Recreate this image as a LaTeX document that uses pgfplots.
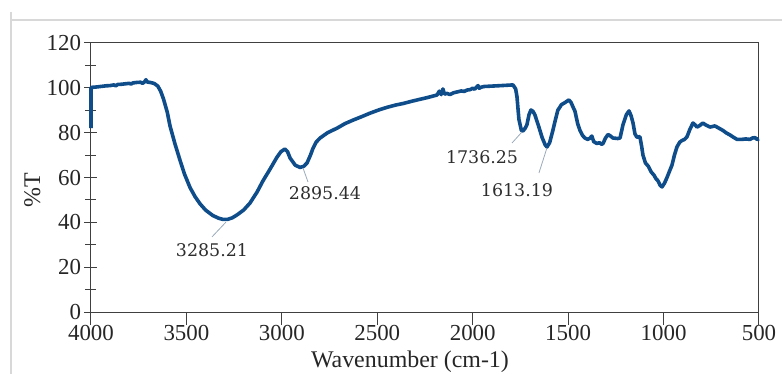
\documentclass[border=0pt]{standalone}
\usepackage{pgfplots}
\pgfplotsset{compat=1.18}
\usepackage{fontspec}
\setmainfont{Liberation Serif}
\newfontfamily\annfont{DejaVu Serif}
\definecolor{curve}{HTML}{0F4C8A}
\definecolor{axgray}{HTML}{404040}
\definecolor{lead}{HTML}{9AAABB}
\definecolor{frame}{HTML}{D8D8D8}
\definecolor{anntext}{HTML}{2E2E2E}
\begin{document}
\begin{tikzpicture}
\path[use as bounding box] (0,0) rectangle (782bp,374bp);
\draw[frame, line width=1.5bp] (11bp,362bp) -- (11bp,0);
\draw[frame, line width=1.2bp] (11bp,354bp) -- (782bp,354bp);
\begin{axis}[
  scale only axis,
  width=668bp, height=269bp,
  at={(91bp,62bp)}, anchor=south west,
  x dir=reverse,
  xmin=500, xmax=4000, ymin=0, ymax=120,
  xtick={500,1000,...,4000},
  ytick={0,20,...,120},
  minor y tick num=1,
  xtick pos=bottom, ytick pos=left,
  /pgf/number format/1000 sep={},
  /pgf/number format/assume math mode=true,
  axis line style={axgray, line width=1bp},
  every tick/.style={axgray, line width=1bp},
  major tick length=13bp, minor tick length=11bp,
  ytick align=center, xtick align=outside,
  tick label style={font=\fontsize{23}{26}\selectfont, text=black!85},
  xticklabel style={yshift=3bp},
  label style={font=\fontsize{24}{27}\selectfont, text=black!85},
  xlabel={Wavenumber (cm-1)},
  ylabel={\%T},
  xlabel style={at={(axis description cs:0.4775,-0.186)}, anchor=center},
  ylabel style={at={(axis description cs:-0.088,0.4535)}, anchor=center},
  clip=false,
]
\addplot[curve, line width=3.6bp, line join=round] coordinates {
(4000,82) (4000,100.2) (3980,100.3) (3950,100.6) (3920,100.9) (3900,101.0)
(3880,101.3) (3870,100.9) (3860,101.5) (3840,101.6) (3820,101.8) (3800,102.0)
(3790,101.7) (3780,102.2) (3760,102.4) (3740,102.5) (3730,102.0) (3720,102.6)
(3712,103.6) (3705,102.6) (3690,102.4) (3670,102.0) (3650,100.8) (3635,98.5)
(3620,95) (3600,89) (3586,83) (3560,75) (3534,67.8) (3510,61.5) (3481,55.5)
(3455,51.5) (3429,48.3) (3400,45.5) (3361,43.0) (3330,41.8) (3308,41.3)
(3285,41.3) (3260,42.0) (3235,43.3) (3200,45.5) (3167,48.6) (3130,53.5)
(3099,58.5) (3060,64) (3026,69) (3005,71.5) (2984,72.7) (2970,71.5)
(2957,68.7) (2930,65.5) (2905,64.5) (2885,65) (2868,66.5) (2850,70)
(2837,73) (2820,75.8) (2800,77.6) (2760,80) (2711,82) (2670,84) (2627,85.6)
(2580,87.2) (2538,88.7) (2490,90.2) (2449,91.3) (2400,92.4) (2365,93)
(2320,94) (2276,94.9) (2240,95.6) (2200,96.5) (2187,96.8) (2175,98.5)
(2165,97) (2156,99.5) (2148,97.2) (2135,97.5) (2119,97) (2100,97.8)
(2080,98.2) (2060,98.6) (2045,98.4) (2030,99) (2014,99.2) (2000,99.8)
(1990,99.4) (1978,100.5) (1972,101) (1966,99.8) (1955,100.3) (1940,100.6)
(1894,100.8) (1850,101) (1789,101.3) (1775,99.5) (1768,96) (1758,86)
(1745,81) (1737,80.7) (1725,82) (1716,83.5) (1705,88) (1695,90.1)
(1684,89.5) (1674,87.9) (1655,83) (1637,78) (1620,74.5) (1611,73.6)
(1597,75.5) (1580,81) (1566,86) (1554,90) (1535,92.5) (1515,93.5)
(1496,94.6) (1485,93.5) (1472,91) (1464,89.5) (1450,84) (1438,81)
(1425,78.8) (1412,77.6) (1398,77) (1386,77.5) (1376,78.5) (1366,76)
(1350,75.2) (1335,75.5) (1325,74.8) (1317,75.2) (1305,77.5) (1291,79.2)
(1278,78.5) (1265,77.6) (1240,77.4) (1228,77.6) (1213,83.4) (1195,88)
(1181,89.7) (1170,87.5) (1160,84.3) (1150,79.5) (1140,78) (1124,78.2)
(1115,74) (1108,70) (1095,66.5) (1080,65) (1065,62.5) (1050,61)
(1040,59.5) (1029,58.5) (1018,56.5) (1008,55.8) (995,57.5) (982,60)
(968,63) (956,65.5) (943,70) (930,73.6) (915,75.8) (903,76.5) (890,77)
(877,78.2) (862,81.5) (846,84.3) (835,83.5) (825,82.5) (810,83.2)
(794,84.3) (780,83.5) (757,82.5) (731,83) (710,82) (689,81) (670,79.8)
(652,79) (635,78) (615,77) (590,77) (570,77.2) (547,77) (535,77.6)
(521,77.8) (510,77) (500,77.3)
};
% annotations
\draw[lead, line width=0.8bp] (axis cs:3293,40.1) -- (axis cs:3366,33.5);
\node[anntext, font=\annfont\fontsize{17.5}{19}\selectfont] at (axis cs:3366,27.7) {3285.21};
\draw[lead, line width=0.8bp] (axis cs:2889,64.2) -- (axis cs:2863,58);
\node[anntext, font=\annfont\fontsize{17.5}{19}\selectfont] at (axis cs:2774,53.1) {2895.44};
\draw[lead, line width=0.8bp] (axis cs:1742,80.3) -- (axis cs:1794,75.4);
\node[anntext, font=\annfont\fontsize{17.5}{19}\selectfont] at (axis cs:1951,69.1) {1736.25};
\draw[lead, line width=0.8bp] (axis cs:1611,73.2) -- (axis cs:1653,62);
\node[anntext, font=\annfont\fontsize{17.5}{19}\selectfont] at (axis cs:1768,54.4) {1613.19};
\end{axis}
\end{tikzpicture}
\end{document}
